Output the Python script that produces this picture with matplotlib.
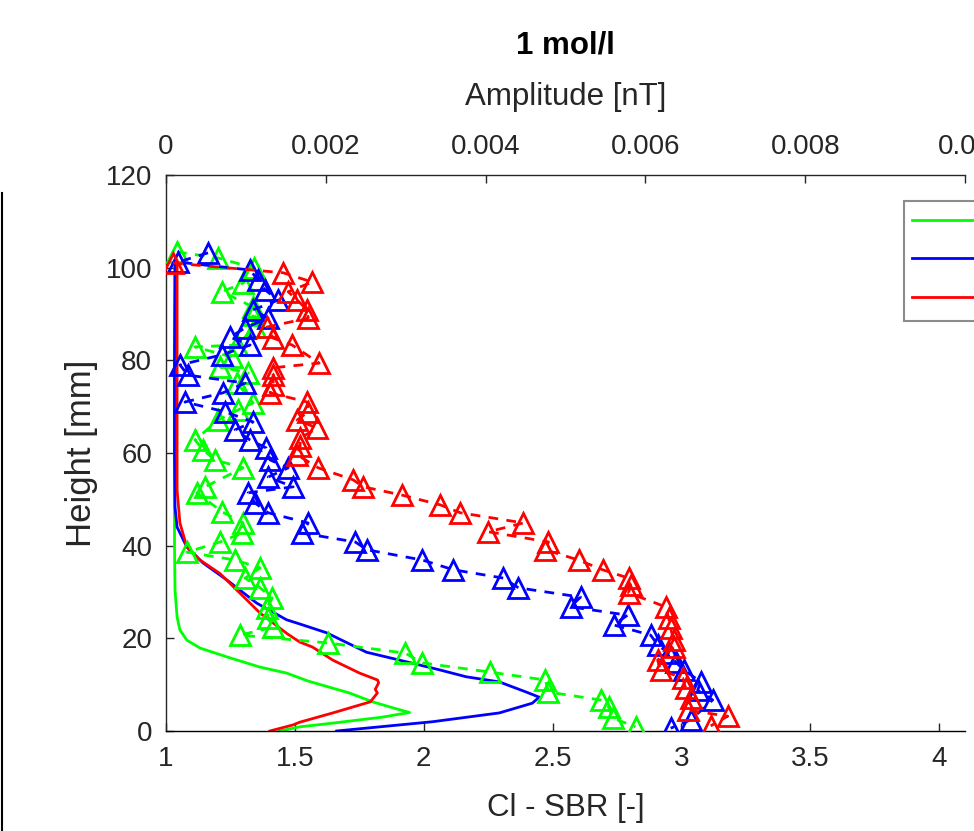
import numpy as np
import matplotlib
matplotlib.use("Agg")
import matplotlib.pyplot as plt
from matplotlib.lines import Line2D
from matplotlib.ticker import FuncFormatter

plt.rcParams['font.family'] = ['Liberation Sans', 'DejaVu Sans']

# ---------------- data ----------------
# Continuous Cl - SBR profiles (bottom axis) : height [mm] and value [-]
h_green_line = [0, 0.9, 1.7, 3.0, 4.0, 5.0, 6.3, 8.2, 10.8, 12.5, 13.8, 16.0, 17.9, 19.6, 21.8, 24.6, 30.4, 40, 60, 80, 101]
sbr_green_line = [1.441, 1.519, 1.647, 1.840, 1.945, 1.88, 1.801, 1.712, 1.55, 1.468, 1.364, 1.236, 1.132, 1.081, 1.054, 1.043, 1.035, 1.033, 1.033, 1.033, 1.035]

h_blue_line = [0, 2.0, 3.9, 6.0, 7.3, 8.4, 10.6, 11.7, 13.2, 15.3, 17.0, 21.2, 23.1, 24.0, 27.6, 32.6, 36.3, 39.7, 44.0, 48.3, 60, 80, 101]
sbr_blue_line = [1.662, 2.034, 2.293, 2.421, 2.448, 2.398, 2.293, 2.165, 2.061, 1.906, 1.778, 1.623, 1.519, 1.468, 1.352, 1.236, 1.143, 1.081, 1.043, 1.035, 1.033, 1.033, 1.035]

h_red_line = [0, 1.3, 1.9, 3.9, 6.3, 8.2, 9.0, 10.4, 11.0, 12.5, 15.3, 18.1, 19.2, 21.0, 25.5, 29.8, 34.0, 36.9, 39.7, 44.9, 52.0, 63, 80, 101]
sbr_red_line = [1.403, 1.492, 1.519, 1.647, 1.793, 1.820, 1.812, 1.825, 1.821, 1.751, 1.647, 1.569, 1.519, 1.470, 1.364, 1.286, 1.209, 1.132, 1.081, 1.054, 1.043, 1.043, 1.043, 1.043]

# Amplitude measurements (top axis), amplitude given in 1e-3 nT
AMP_SCALE = 1e-3
h_green_pts = [103.4, 102.1, 99.9, 96.7, 94.8, 91.5, 89.8, 87.2, 83.3, 82.9, 80.7, 78.6, 77.3, 75.1, 70.8, 69.3, 67.1,
               62.8, 60.7, 58.5, 56.8, 52.7, 51.4, 47.3, 44.9, 42.7, 40.8, 38.6, 36.9, 35.2, 33.0, 30.9, 28.7, 26.5,
               24.4, 22.4, 20.7, 19.0, 16.8, 14.7, 12.7, 11.0, 8.4, 6.7, 5.2, 2.8, 0.9]
amp_green_pts = [0.138, 0.652, 1.103, 0.965, 0.702, 1.090, 1.090, 1.115, 0.890, 0.363, 0.827, 0.677, 1.028, 0.890,
                 1.090, 0.902, 0.652, 0.363, 0.464, 0.614, 0.965, 0.489, 0.388, 0.702, 0.965, 0.952, 0.677, 0.263,
                 0.865, 1.178, 0.990, 1.178, 1.328, 1.266, 1.278, 1.341, 0.927, 2.030, 2.995, 3.208, 4.060, 4.749,
                 4.787, 5.439, 5.539, 5.589, 5.877]

h_blue_pts = [103.2, 101.2, 99.5, 97.3, 95.2, 93.0, 90.9, 89.1, 87.0, 85.0, 83.3, 81.2, 79.0, 76.8, 75.1, 73.0, 71.0,
              68.9, 66.7, 65.0, 62.8, 61.1, 58.5, 56.8, 54.8, 52.7, 51.4, 49.2, 47.1, 44.9, 42.7, 40.8, 39.1, 36.9,
              34.8, 33.0, 30.9, 28.9, 26.8, 25.0, 22.9, 20.7, 18.6, 16.8, 14.9, 13.2, 10.6, 8.8, 6.7, 2.4, 0.6]
amp_blue_pts = [0.526, 0.150, 1.053, 1.153, 1.241, 1.403, 1.090, 1.278, 0.990, 0.802, 1.053, 0.702, 0.175, 0.276,
                0.990, 0.714, 0.238, 0.739, 1.090, 0.865, 1.053, 1.253, 1.303, 1.529, 1.278, 1.591, 1.028, 1.115,
                1.278, 1.779, 1.704, 2.368, 2.519, 3.208, 3.596, 4.223, 4.411, 5.188, 5.063, 5.777, 5.601, 6.065,
                6.153, 6.291, 6.378, 6.479, 6.692, 6.654, 6.842, 6.566, 6.316]

h_red_pts = [101.0, 98.9, 96.9, 94.8, 93.0, 90.9, 89.1, 87.2, 84.8, 83.3, 79.4, 78.4, 76.8, 74.7, 73.0, 71.0, 68.9,
             67.1, 65.4, 63.2, 61.5, 59.6, 56.8, 54.2, 52.7, 50.9, 48.8, 47.1, 44.9, 43.0, 40.8, 39.1, 36.9, 34.8,
             33.0, 31.5, 29.8, 26.8, 24.4, 22.2, 19.6, 18.1, 15.3, 13.2, 11.4, 9.3, 7.1, 4.5, 3.2, 1.1]
amp_red_pts = [0.088, 1.466, 1.830, 1.529, 1.642, 1.767, 1.779, 1.266, 1.341, 1.579, 1.917, 1.341, 1.341, 1.341,
               1.303, 1.767, 1.779, 1.642, 1.892, 1.679, 1.679, 1.642, 1.905, 2.343, 2.469, 2.957, 3.433, 3.684,
               4.474, 4.035, 4.787, 4.749, 5.163, 5.464, 5.789, 5.814, 5.789, 6.253, 6.291, 6.316, 6.353, 6.353,
               6.153, 6.190, 6.466, 6.504, 6.566, 6.529, 7.030, 6.817]

series_names = ['Sample 1', 'Sample 2', 'Sample 3']
series_colors = ['#00ff00', '#0000ff', '#ff0000']

title_text = '1 mol/l'
top_label = 'Amplitude [nT]'
bottom_label = 'Cl - SBR [-]'
y_label = 'Height [mm]'
y_ticks = [0, 20, 40, 60, 80, 100, 120]
bottom_ticks = [1, 1.5, 2, 2.5, 3, 3.5, 4]
top_ticks = [0, 0.002, 0.004, 0.006, 0.008, 0.01]

# ---------------- figure ----------------
W, H = 974, 831
fig = plt.figure(figsize=(W / 100, H / 100), dpi=100)
ax = fig.add_axes([166 / W, 100 / H, 799 / W, 556 / H])
ax2 = ax.twiny()

txt_col = '#262626'
tick_fs = 20
label_fs = 22.5
lw = 2.0

lines_data = [(h_green_line, sbr_green_line), (h_blue_line, sbr_blue_line), (h_red_line, sbr_red_line)]
pts_data = [(h_green_pts, amp_green_pts), (h_blue_pts, amp_blue_pts), (h_red_pts, amp_red_pts)]

handles = []
for (hh, vv), name, c in zip(lines_data, series_names, series_colors):
    ln, = ax.plot(vv, hh, '-', color=c, lw=lw, label=name)
    handles.append(ln)

for (hh, aa), c in zip(pts_data, series_colors):
    ax2.plot(np.array(aa) * AMP_SCALE, hh, linestyle=(0, (3.5, 3)), color=c, lw=lw,
             marker='^', markersize=14, markerfacecolor='none', markeredgecolor=c, markeredgewidth=2.0)

ax.set_ylim(0, 120)
ax.set_xlim(1, 4.1)
ax2.set_xlim(0, 0.01)

ax.set_yticks(y_ticks)
ax.set_xticks(bottom_ticks)
ax2.set_xticks(top_ticks)
fmt = FuncFormatter(lambda v, p: '%g' % round(v, 6))
ax.xaxis.set_major_formatter(fmt)
ax2.xaxis.set_major_formatter(fmt)

for a in (ax, ax2):
    a.spines['right'].set_visible(False)
    for s in a.spines.values():
        s.set_color(txt_col)
        s.set_linewidth(1.0)
ax2.spines['bottom'].set_visible(False)
ax2.spines['left'].set_visible(False)
ax.spines['top'].set_visible(False)
ax.spines['bottom'].set_color('black')

ax.tick_params(axis='x', direction='in', length=6, width=1, colors=txt_col, labelsize=tick_fs, pad=11, top=False)
ax.tick_params(axis='y', direction='in', length=6, width=1, colors=txt_col, labelsize=tick_fs, pad=10, right=False)
ax2.tick_params(axis='x', direction='in', length=6, width=1, colors=txt_col, labelsize=tick_fs, pad=11)

# axis labels and title placed like the reference
ax.text(0.5, (731 - 808) / 556, bottom_label, transform=ax.transAxes, ha='center', va='center',
        fontsize=label_fs, color=txt_col)
ax.text(0.5, (731 - 97) / 556, top_label, transform=ax.transAxes, ha='center', va='center',
        fontsize=label_fs, color=txt_col)
ax.text(0.5, (731 - 45) / 556, title_text, transform=ax.transAxes, ha='center', va='center',
        fontsize=label_fs, fontweight='bold', color='black')
ax.text((82 - 166) / 799, 0.5, y_label, transform=ax.transAxes, ha='center', va='center',
        rotation=90, fontsize=25, color=txt_col)

leg = ax2.legend(handles=handles, labels=series_names, loc='upper left',
                 bbox_to_anchor=(904 / W, 1 - 201 / H), bbox_transform=fig.transFigure,
                 fontsize=20, frameon=True, fancybox=False, borderpad=0.3, labelspacing=0.45,
                 handlelength=3.0, handletextpad=0.5, borderaxespad=0)
leg.get_frame().set_edgecolor('#6e6e6e')
leg.get_frame().set_linewidth(1.5)
for t in leg.get_texts():
    t.set_color(txt_col)

# separate vertical rule at the far left edge of the figure
fig.add_artist(Line2D([2 / W, 2 / W], [0, 1 - 193 / H], transform=fig.transFigure, color='black', lw=1.5))

fig.savefig('out.png', dpi=100)
